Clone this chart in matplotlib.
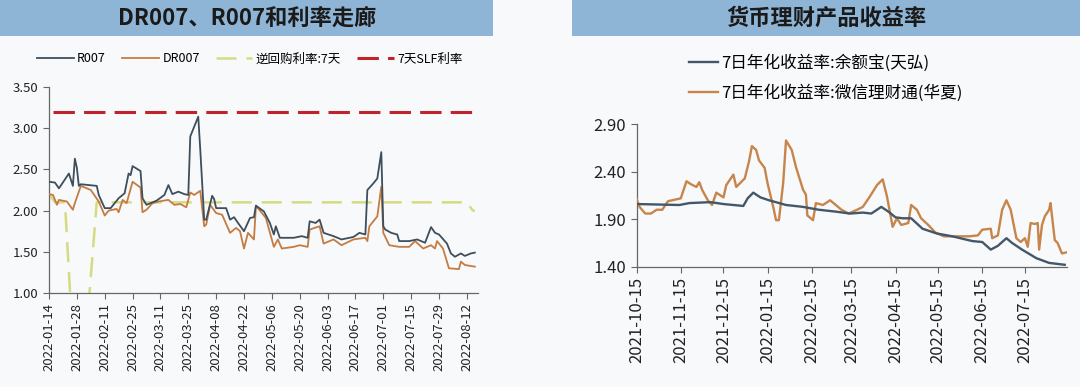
import matplotlib
matplotlib.use("Agg")
import matplotlib.pyplot as plt
import matplotlib.dates as mdates
from matplotlib.patches import Rectangle
import pandas as pd

plt.rcParams['font.family'] = ['Noto Sans CJK SC', 'DejaVu Sans']

# ---- left chart: DR007, R007 and rate corridor ----
r007_dates = ['2022-01-14', '2022-01-17', '2022-01-19', '2022-01-24', '2022-01-26', '2022-01-27',
              '2022-01-28', '2022-01-29', '2022-01-30', '2022-02-07', '2022-02-08', '2022-02-11',
              '2022-02-14', '2022-02-18', '2022-02-21', '2022-02-23', '2022-02-24', '2022-02-25',
              '2022-03-01', '2022-03-02', '2022-03-04', '2022-03-09', '2022-03-13', '2022-03-15',
              '2022-03-17', '2022-03-20', '2022-03-23', '2022-03-25', '2022-03-26', '2022-03-28',
              '2022-03-30', '2022-03-31', '2022-04-02', '2022-04-03', '2022-04-06', '2022-04-07',
              '2022-04-08', '2022-04-13', '2022-04-15', '2022-04-17', '2022-04-19', '2022-04-22',
              '2022-04-25', '2022-04-27', '2022-04-28', '2022-05-02', '2022-05-05', '2022-05-07',
              '2022-05-08', '2022-05-10', '2022-05-17', '2022-05-21', '2022-05-24', '2022-05-25',
              '2022-05-28', '2022-05-30', '2022-06-01', '2022-06-06', '2022-06-10', '2022-06-16',
              '2022-06-19', '2022-06-22', '2022-06-23', '2022-06-26', '2022-06-28', '2022-06-30',
              '2022-07-01', '2022-07-02', '2022-07-05', '2022-07-08', '2022-07-09', '2022-07-14',
              '2022-07-18', '2022-07-22', '2022-07-25', '2022-07-27', '2022-07-29', '2022-08-02',
              '2022-08-04', '2022-08-06', '2022-08-09', '2022-08-11', '2022-08-14', '2022-08-16']
r007 = [2.35, 2.34, 2.27, 2.45, 2.30, 2.63,
        2.52, 2.30, 2.32, 2.30, 2.19, 2.03,
        2.03, 2.15, 2.21, 2.45, 2.43, 2.54,
        2.48, 2.15, 2.07, 2.12, 2.19, 2.31,
        2.20, 2.23, 2.20, 2.19, 2.90, 3.02,
        3.14, 2.75, 1.89, 1.89, 2.18, 2.14,
        2.03, 2.03, 1.89, 1.92, 1.85, 1.75,
        1.91, 1.92, 2.06, 1.99, 1.85, 1.71,
        1.81, 1.67, 1.67, 1.69, 1.67, 1.87,
        1.85, 1.89, 1.73, 1.69, 1.65, 1.68,
        1.73, 1.71, 2.25, 2.33, 2.39, 2.71,
        1.81, 1.77, 1.73, 1.71, 1.63, 1.63,
        1.65, 1.61, 1.80, 1.73, 1.71, 1.60,
        1.48, 1.44, 1.48, 1.45, 1.48, 1.49]

dr007_dates = ['2022-01-14', '2022-01-16', '2022-01-18', '2022-01-19', '2022-01-23', '2022-01-26',
               '2022-01-27', '2022-01-30', '2022-02-04', '2022-02-08', '2022-02-11', '2022-02-13',
               '2022-02-17', '2022-02-18', '2022-02-20', '2022-02-22', '2022-02-25', '2022-03-01',
               '2022-03-02', '2022-03-04', '2022-03-07', '2022-03-10', '2022-03-15', '2022-03-18',
               '2022-03-21', '2022-03-24', '2022-03-26', '2022-03-28', '2022-03-31', '2022-04-02',
               '2022-04-03', '2022-04-05', '2022-04-08', '2022-04-11', '2022-04-15', '2022-04-18',
               '2022-04-20', '2022-04-22', '2022-04-24', '2022-04-27', '2022-04-28', '2022-05-03',
               '2022-05-07', '2022-05-09', '2022-05-11', '2022-05-17', '2022-05-20', '2022-05-24',
               '2022-05-25', '2022-05-30', '2022-06-01', '2022-06-06', '2022-06-10', '2022-06-16',
               '2022-06-22', '2022-06-23', '2022-06-24', '2022-06-28', '2022-06-30', '2022-07-01',
               '2022-07-04', '2022-07-09', '2022-07-14', '2022-07-17', '2022-07-21', '2022-07-25',
               '2022-07-27', '2022-07-28', '2022-07-31', '2022-08-03', '2022-08-08', '2022-08-09',
               '2022-08-11', '2022-08-16']
dr007 = [2.20, 2.19, 2.07, 2.13, 2.11, 2.01,
         2.09, 2.30, 2.25, 2.11, 1.94, 2.00,
         2.02, 1.98, 2.13, 2.09, 2.35, 2.28,
         1.98, 2.01, 2.09, 2.11, 2.13, 2.07,
         2.08, 2.04, 2.22, 2.19, 2.24, 1.81,
         1.83, 2.07, 1.97, 1.95, 1.73, 1.79,
         1.75, 1.54, 1.73, 1.65, 2.06, 1.91,
         1.56, 1.65, 1.54, 1.56, 1.58, 1.56,
         1.77, 1.81, 1.60, 1.65, 1.58, 1.65,
         1.67, 1.63, 1.81, 1.93, 2.29, 1.73,
         1.58, 1.56, 1.56, 1.63, 1.54, 1.58,
         1.54, 1.63, 1.54, 1.30, 1.29, 1.38,
         1.34, 1.32]

rrp_dates = ['2022-01-14', '2022-01-17', '2022-01-22', '2022-01-27', '2022-01-31', '2022-02-07',
             '2022-08-12', '2022-08-15', '2022-08-16']
rrp_7d = [2.20, 2.10, 2.10, 0.00, 0.00, 2.10, 2.10, 2.00, 2.00]

slf_dates = ['2022-01-16', '2022-08-15']
slf_7d = [3.20, 3.20]

left_ticks = pd.date_range('2022-01-14', '2022-08-12', freq='14D')

# ---- right chart: money fund 7-day yields ----
yeb_dates = ['2021-10-15', '2021-11-14', '2021-11-21', '2021-12-06', '2021-12-15', '2021-12-29',
             '2022-01-01', '2022-01-05', '2022-01-10', '2022-01-16', '2022-01-28', '2022-02-09',
             '2022-02-20', '2022-03-04', '2022-03-14', '2022-03-23', '2022-03-29', '2022-04-05',
             '2022-04-10', '2022-04-15', '2022-04-20', '2022-04-26', '2022-05-04', '2022-05-14',
             '2022-05-25', '2022-06-08', '2022-06-15', '2022-06-21', '2022-06-26', '2022-07-02',
             '2022-07-06', '2022-07-13', '2022-07-23', '2022-08-01', '2022-08-12']
yeb = [2.06, 2.05, 2.07, 2.08, 2.06, 2.04,
       2.12, 2.18, 2.13, 2.10, 2.05, 2.03,
       2.00, 1.98, 1.96, 1.97, 1.96, 2.03,
       1.98, 1.92, 1.91, 1.91, 1.80, 1.75,
       1.72, 1.67, 1.66, 1.58, 1.62, 1.70,
       1.65, 1.58, 1.49, 1.44, 1.42]

wx_dates = ['2021-10-15', '2021-10-17', '2021-10-21', '2021-10-25', '2021-10-29', '2021-11-02',
            '2021-11-06', '2021-11-12', '2021-11-15', '2021-11-19', '2021-11-22', '2021-11-26',
            '2021-11-28', '2021-11-30', '2021-12-04', '2021-12-07', '2021-12-10', '2021-12-15',
            '2021-12-17', '2021-12-22', '2021-12-24', '2021-12-30', '2022-01-02', '2022-01-04',
            '2022-01-07', '2022-01-09', '2022-01-13', '2022-01-15', '2022-01-19', '2022-01-21',
            '2022-01-23', '2022-01-26', '2022-01-28', '2022-02-01', '2022-02-04', '2022-02-09',
            '2022-02-11', '2022-02-12', '2022-02-16', '2022-02-18', '2022-02-23', '2022-02-28',
            '2022-03-04', '2022-03-08', '2022-03-13', '2022-03-19', '2022-03-23', '2022-03-28',
            '2022-04-02', '2022-04-06', '2022-04-09', '2022-04-13', '2022-04-16', '2022-04-19',
            '2022-04-24', '2022-04-26', '2022-04-30', '2022-05-03', '2022-05-08', '2022-05-13',
            '2022-05-19', '2022-05-28', '2022-06-06', '2022-06-12', '2022-06-15', '2022-06-21',
            '2022-06-22', '2022-06-26', '2022-06-29', '2022-07-02', '2022-07-05', '2022-07-09',
            '2022-07-12', '2022-07-15', '2022-07-17', '2022-07-19', '2022-07-22', '2022-07-24',
            '2022-07-25', '2022-07-27', '2022-07-29', '2022-08-01', '2022-08-02', '2022-08-05',
            '2022-08-07', '2022-08-10', '2022-08-13']
wx = [2.11, 2.03, 1.96, 1.96, 2.00, 2.00,
      2.09, 2.11, 2.12, 2.30, 2.27, 2.24,
      2.29, 2.21, 2.10, 2.05, 2.18, 2.13,
      2.26, 2.37, 2.24, 2.33, 2.51, 2.67,
      2.63, 2.52, 2.44, 2.28, 2.03, 1.89,
      1.89, 2.28, 2.73, 2.63, 2.45, 2.21,
      2.16, 1.94, 1.89, 2.07, 2.05, 2.10,
      2.05, 2.00, 1.96, 2.00, 2.03, 2.14,
      2.26, 2.32, 2.14, 1.82, 1.91, 1.84,
      1.86, 2.05, 2.00, 1.91, 1.84, 1.76,
      1.72, 1.72, 1.72, 1.73, 1.79, 1.80,
      1.70, 1.73, 2.00, 2.10, 2.00, 1.70,
      1.66, 1.70, 1.61, 1.86, 1.85, 1.86,
      1.58, 1.84, 1.93, 2.00, 2.07, 1.68,
      1.65, 1.54, 1.55]

right_ticks = pd.date_range('2021-10-01', '2022-07-01', freq='MS') + pd.Timedelta(days=14)

bar_color = '#8fb5d6'
bg = '#f8f9fb'

fig = plt.figure(figsize=(10.8, 3.87), dpi=100, facecolor=bg)

# title bars
fig.patches.append(Rectangle((0, 1 - 36 / 387), 493 / 1080, 36 / 387, transform=fig.transFigure,
                             facecolor=bar_color, edgecolor='none', zorder=0))
fig.patches.append(Rectangle((572 / 1080, 1 - 36 / 387), 508 / 1080, 36 / 387, transform=fig.transFigure,
                             facecolor=bar_color, edgecolor='none', zorder=0))
fig.text(247 / 1080, 1 - 18 / 387, 'DR007、R007和利率走廊', ha='center', va='center',
         fontsize=16, fontweight='bold', color='#1a1a1a')
fig.text(826 / 1080, 1 - 18 / 387, '货币理财产品收益率', ha='center', va='center',
         fontsize=16, fontweight='bold', color='#1a1a1a')


def style_axes(ax, size):
    ax.set_facecolor(bg)
    for s in ['top', 'right']:
        ax.spines[s].set_visible(False)
    for s in ['left', 'bottom']:
        ax.spines[s].set_color('#666666')
        ax.spines[s].set_linewidth(0.9)
    ax.tick_params(axis='both', colors='#666666', labelcolor='#222222', labelsize=size,
                   length=4, width=0.8, direction='out')


# left chart
ax1 = fig.add_axes([49 / 1080, 1 - 293 / 387, 429 / 1080, 206 / 387])
style_axes(ax1, 9.5)
ax1.plot(pd.to_datetime(r007_dates), r007, color='#3d4f5d', lw=1.3, label='R007', zorder=4)
ax1.plot(pd.to_datetime(dr007_dates), dr007, color='#c47c42', lw=1.3, label='DR007', zorder=3)
ax1.plot(pd.to_datetime(rrp_dates), rrp_7d, color='#d6db82', lw=1.8, dashes=(8, 4),
         label='逆回购利率:7天', zorder=2)
ax1.plot(pd.to_datetime(slf_dates), slf_7d, color='#c0232c', lw=2.2, dashes=(7, 3),
         label='7天SLF利率', zorder=2)
ax1.set_ylim(1.0, 3.5)
ax1.set_yticks([1.0, 1.5, 2.0, 2.5, 3.0, 3.5])
ax1.yaxis.set_major_formatter(matplotlib.ticker.FormatStrFormatter('%.2f'))
ax1.set_xlim(pd.Timestamp('2022-01-14'), pd.Timestamp('2022-01-14') + pd.Timedelta(days=215.6))
ax1.set_xticks(left_ticks)
ax1.xaxis.set_major_formatter(mdates.DateFormatter('%Y-%m-%d'))
plt.setp(ax1.get_xticklabels(), rotation=90)
fig.legend(*ax1.get_legend_handles_labels(), loc='center', bbox_to_anchor=(250 / 1080, 1 - 59 / 387),
           ncol=4, frameon=False, fontsize=9, handlelength=2.9, handletextpad=0.3,
           columnspacing=1.3, borderpad=0, borderaxespad=0)

# right chart
ax2 = fig.add_axes([636.7 / 1080, 1 - 266.7 / 387, 430.3 / 1080, 142.4 / 387])
style_axes(ax2, 12)
ax2.plot(pd.to_datetime(yeb_dates), yeb, color='#435769', lw=1.7,
         label='7日年化收益率:余额宝(天弘)', zorder=4)
ax2.plot(pd.to_datetime(wx_dates), wx, color='#c6854a', lw=1.7,
         label='7日年化收益率:微信理财通(华夏)', zorder=3)
ax2.set_ylim(1.4, 2.9)
ax2.set_yticks([1.4, 1.9, 2.4, 2.9])
ax2.yaxis.set_major_formatter(matplotlib.ticker.FormatStrFormatter('%.2f'))
ax2.set_xlim(pd.Timestamp('2021-10-15'), pd.Timestamp('2021-10-15') + pd.Timedelta(days=302.6))
ax2.set_xticks(right_ticks)
ax2.xaxis.set_major_formatter(mdates.DateFormatter('%Y-%m-%d'))
plt.setp(ax2.get_xticklabels(), rotation=90)
fig.legend(*ax2.get_legend_handles_labels(), loc='center left', bbox_to_anchor=(689 / 1080, 1 - 78 / 387),
           ncol=1, frameon=False, fontsize=12, handlelength=1.75, handletextpad=0.15,
           labelspacing=0.75, borderpad=0, borderaxespad=0)

fig.savefig('out.png', dpi=100, facecolor=bg)
